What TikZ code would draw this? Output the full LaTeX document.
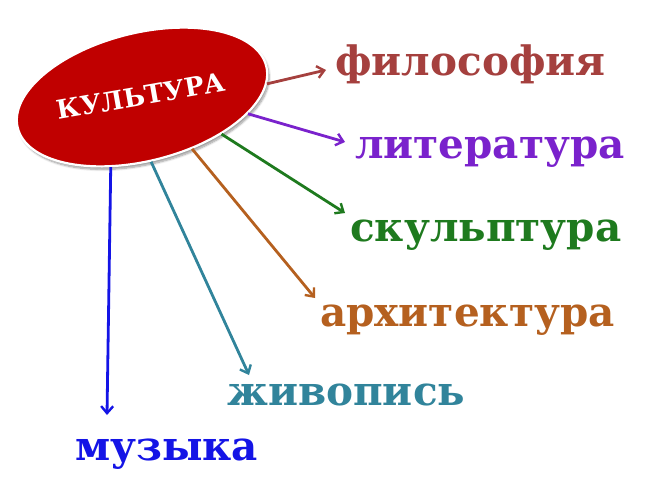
\documentclass[tikz,border=0pt]{standalone}
\usepackage{fontspec}
\setmainfont{DejaVu Serif}
\usetikzlibrary{arrows.meta,shadows.blur,shapes.geometric}
\definecolor{cred}{HTML}{C00000}
\definecolor{cphil}{HTML}{A5403E}
\definecolor{clit}{HTML}{7A22CC}
\definecolor{cscu}{HTML}{1E7A1E}
\definecolor{carch}{HTML}{B5601F}
\definecolor{cpaint}{HTML}{31849B}
\definecolor{cmus}{HTML}{1414E6}
\tikzset{
  lbl/.style={anchor=base west, inner sep=0pt, font=\fontsize{40.5}{42}\selectfont\bfseries},
  conn/.style={line width=2.8pt, -{Straight Barb[length=7pt,width=12pt,line width=2.4pt]}},
}
\begin{document}
\begin{tikzpicture}[x=1pt,y=-1pt]
\useasboundingbox (0,0) rectangle (653,490);
\node[ellipse, rotate=14, minimum width=256pt, minimum height=128pt, fill=cred, draw=white, line width=2.2pt,
      blur shadow={shadow xshift=2pt, shadow yshift=-3pt, shadow blur steps=8}] (cult) at (142,97) {};
\node[rotate=10, text=white, inner sep=0pt, font=\fontsize{26}{28}\selectfont\bfseries] (ct) at (141,96) {КУЛЬТУРА};
\node[lbl, text=cphil] (phil) at (335,75) {философия};
\node[lbl, text=clit] (lit) at (355,158) {литература};
\node[lbl, text=cscu] (scu) at (350,241) {скульптура};
\node[lbl, text=carch] (arch) at (320,326) {архитектура};
\node[lbl, text=cpaint] (paint) at (227,405) {живопись};
\node[lbl, text=cmus] (mus) at (75,460) {музыка};
\coordinate (tphil) at (326,70);
\coordinate (tlit) at (345,142);
\coordinate (tscu) at (345,213);
\coordinate (tarch) at (315,298);
\coordinate (tpaint) at (249,375);
\coordinate (tmus) at (107,415);
\draw[conn, draw=cphil] (cult.352) -- (tphil);
\draw[conn, draw=clit] (cult.337) -- (tlit);
\draw[conn, draw=cscu] (cult.321) -- (tscu);
\draw[conn, draw=carch] (cult.300) -- (tarch);
\draw[conn, draw=cpaint] (cult.264) -- (tpaint);
\draw[conn, draw=cmus] (cult.232) -- (tmus);
\end{tikzpicture}
\end{document}
